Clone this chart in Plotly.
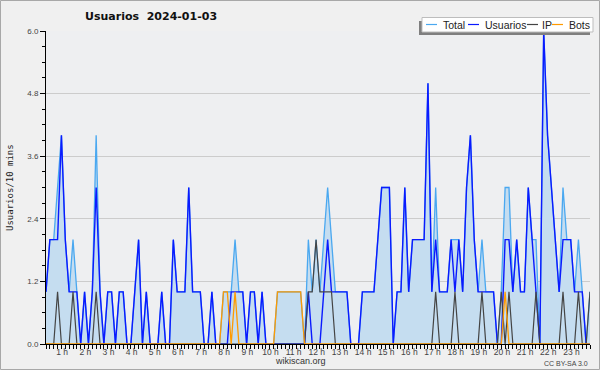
import plotly.graph_objects as go

# ---------------- data (10-minute steps) ----------------
hour_labels = [f"{h} h" for h in range(1, 24)]
y_tick_values = [0, 1.2, 2.4, 3.6, 4.8, 6.0]
y_tick_labels = ["0.0", "1.2", "2.4", "3.6", "4.8", "6.0"]

usuarios = [1, 2, 2, 2, 4, 2, 1, 1, 1, 0, 1, 0, 1, 3, 1, 0, 1, 1, 0, 1,
            1, 0, 0, 1, 2, 0, 1, 0, 0, 0, 1, 0, 0, 2, 1, 1, 1, 3, 1, 1,
            1, 0, 0, 1, 0, 0, 0, 0, 1, 1, 1, 1, 0, 1, 1, 0, 1, 0, 0, 0,
            0, 0, 0, 0, 0, 0, 0, 0, 1, 0, 0, 0, 1, 2, 1, 1, 1, 1, 1, 0,
            0, 0, 1, 1, 1, 1, 2, 3, 3, 3, 0, 1, 1, 3, 1, 2, 2, 2, 2, 5,
            1, 2, 1, 1, 1, 2, 1, 2, 1, 3, 4, 2, 1, 1, 1, 1, 1, 0, 0, 2,
            2, 1, 2, 1, 1, 3, 2, 1, 0, 6, 4, 3, 2, 1, 2, 2, 2, 1, 1, 1,
            0, 0]
ip = [0, 0, 0, 1, 0, 0, 0, 1, 0, 0, 0, 0, 0, 1, 0, 0, 0, 0, 0, 0,
      0, 0, 0, 0, 0, 0, 0, 0, 0, 0, 0, 0, 0, 0, 0, 0, 0, 0, 0, 0,
      0, 0, 0, 0, 0, 0, 0, 0, 0, 0, 0, 0, 0, 0, 0, 0, 0, 0, 0, 0,
      0, 0, 0, 0, 0, 0, 0, 0, 1, 1, 2, 1, 1, 1, 1, 0, 0, 0, 0, 0,
      0, 0, 0, 0, 0, 0, 0, 0, 0, 0, 0, 0, 0, 0, 0, 0, 0, 0, 0, 0,
      0, 1, 0, 0, 0, 0, 1, 0, 0, 0, 0, 0, 0, 1, 0, 0, 0, 0, 1, 0,
      1, 0, 0, 0, 0, 0, 0, 1, 0, 0, 0, 0, 0, 0, 1, 0, 0, 0, 1, 0,
      0, 1]
bots = [0, 0, 0, 0, 0, 0, 0, 0, 0, 0, 0, 0, 0, 0, 0, 0, 0, 0, 0, 0,
        0, 0, 0, 0, 0, 0, 0, 0, 0, 0, 0, 0, 0, 0, 0, 0, 0, 0, 0, 0,
        0, 0, 0, 0, 0, 0, 1, 1, 0, 1, 0, 0, 0, 0, 0, 0, 0, 0, 0, 0,
        1, 1, 1, 1, 1, 1, 1, 0, 0, 0, 0, 0, 0, 0, 0, 0, 0, 0, 0, 0,
        0, 0, 0, 0, 0, 0, 0, 0, 0, 0, 0, 0, 0, 0, 0, 0, 0, 0, 0, 0,
        0, 0, 0, 0, 0, 0, 0, 0, 0, 0, 0, 0, 0, 0, 0, 0, 0, 0, 0, 1,
        0, 0, 0, 0, 0, 0, 0, 0, 0, 0, 0, 0, 0, 0, 0, 0, 0, 0, 0, 0,
        0, 0]
total = [1, 2, 2, 3, 4, 2, 1, 2, 1, 0, 1, 0, 1, 4, 1, 0, 1, 1, 0, 1,
         1, 0, 0, 1, 2, 0, 1, 0, 0, 0, 1, 0, 0, 2, 1, 1, 1, 3, 1, 1,
         1, 0, 0, 1, 0, 0, 1, 1, 1, 2, 1, 1, 0, 1, 1, 0, 1, 0, 0, 0,
         1, 1, 1, 1, 1, 1, 1, 0, 2, 1, 2, 1, 2, 3, 2, 1, 1, 1, 1, 0,
         0, 0, 1, 1, 1, 1, 2, 3, 3, 3, 0, 1, 1, 3, 1, 2, 2, 2, 2, 5,
         1, 3, 1, 1, 1, 2, 2, 2, 1, 3, 4, 2, 1, 2, 1, 1, 1, 0, 1, 3,
         3, 1, 2, 1, 1, 3, 2, 2, 0, 6, 4, 3, 2, 1, 3, 2, 2, 1, 2, 1,
         0, 1]

x = list(range(len(total)))

# ---------------- geometry helpers ----------------
W, H = 600, 370
L, R, T, B = 46, 590, 31, 344


def px(xp):
    return (xp - L) / (R - L)


def py(yp):
    return (B - yp) / (B - T)


C_TOTAL = "#4aa8f0"
C_FILL = "#c5ddf0"
C_USER = "#0a1aff"
C_IP = "#444444"
C_BOTS = "#ff9a00"
SANS = "Liberation Sans"

fig = go.Figure()
fig.add_trace(go.Scatter(x=x, y=total, mode="lines", fill="tozeroy",
                         fillcolor=C_FILL, line=dict(color=C_TOTAL, width=1.3),
                         name="Total", showlegend=False))
fig.add_trace(go.Scatter(x=x, y=usuarios, mode="lines",
                         line=dict(color=C_USER, width=1.4),
                         name="Usuarios", showlegend=False))
fig.add_trace(go.Scatter(x=x, y=ip, mode="lines",
                         line=dict(color=C_IP, width=1.2),
                         name="IP", showlegend=False))
fig.add_trace(go.Scatter(x=x, y=bots, mode="lines",
                         line=dict(color=C_BOTS, width=1.3),
                         name="Bots", showlegend=False))

xtickvals = x
xticktext = [hour_labels[i // 6 - 1] if (i % 6 == 0 and i > 0) else "" for i in x]

fig.update_layout(
    template="none",
    width=W, height=H,
    margin=dict(l=L, r=W - R, t=T, b=H - B, pad=0),
    paper_bgcolor="#f0f0f0",
    plot_bgcolor="#eeeff1",
    font=dict(family=SANS, size=9, color="#333333"),
    xaxis=dict(range=[0, len(total) - 1], tickmode="array", tickvals=xtickvals,
               ticktext=xticktext, ticks="outside", ticklen=4, tickwidth=1,
               tickcolor="#000000", showgrid=False, zeroline=False,
               showline=True, linecolor="#000000", linewidth=1,
               tickfont=dict(family=SANS, size=8.5, color="#444444"),
               ticklabelshift=-7, ticklabelstandoff=-4, automargin=False,
               fixedrange=True),
    yaxis=dict(range=[0, 6], tickmode="array", tickvals=y_tick_values,
               ticktext=y_tick_labels, ticks="outside", ticklen=5,
               tickcolor="#000000", showgrid=True, gridcolor="#cccccc",
               gridwidth=1, zeroline=False, showline=True,
               linecolor="#000000", linewidth=1,
               tickfont=dict(family=SANS, size=8, color="#444444"),
               minor=dict(dtick=0.3, tick0=0, ticks="outside", ticklen=3,
                          tickcolor="#000000", showgrid=False),
               automargin=False, fixedrange=True),
    showlegend=False,
)

shapes = []
# outer border
shapes.append(dict(type="rect", xref="paper", yref="paper",
                   x0=px(0.5), x1=px(W - 0.5), y0=py(0.5), y1=py(H - 0.5),
                   line=dict(color="#a8a8a8", width=1), fillcolor="rgba(0,0,0,0)",
                   layer="above"))
# legend shadow + box
shapes.append(dict(type="rect", xref="paper", yref="paper",
                   x0=px(419), x1=px(590), y0=py(35), y1=py(21),
                   line=dict(width=0), fillcolor="#7f7f7f", layer="above"))
shapes.append(dict(type="rect", xref="paper", yref="paper",
                   x0=px(422), x1=px(593), y0=py(32), y1=py(17.5),
                   line=dict(color="#bdbdbd", width=1), fillcolor="#ffffff", layer="above"))

legend_items = [("Total", C_TOTAL, 426, 442),
                ("Usuarios", C_USER, 468, 484),
                ("IP", C_IP, 527, 541),
                ("Bots", C_BOTS, 552, 568)]
annotations = []
for name, col, lx, tx in legend_items:
    shapes.append(dict(type="line", xref="paper", yref="paper",
                       x0=px(lx), x1=px(lx + 11), y0=py(24.5), y1=py(24.5),
                       line=dict(color=col, width=1.2), layer="above"))
    annotations.append(dict(xref="paper", yref="paper", x=px(tx - 1), y=py(24.5),
                            text=name, showarrow=False, xanchor="left", yanchor="middle",
                            font=dict(family=SANS, size=10.5, color="#222222")))

annotations.append(dict(xref="paper", yref="paper", x=px(151), y=py(16.5),
                        text="<b>Usuarios  2024-01-03</b>", showarrow=False,
                        xanchor="center", yanchor="middle",
                        font=dict(family="DejaVu Sans", size=11, color="#111111")))
annotations.append(dict(xref="paper", yref="paper", x=px(10), y=py(188),
                        text="Usuarios/10 mins", showarrow=False, textangle=-90,
                        xanchor="center", yanchor="middle",
                        font=dict(family="DejaVu Sans Mono", size=9, color="#222222")))
annotations.append(dict(xref="paper", yref="paper", x=px(300), y=py(361.5),
                        text="wikiscan.org", showarrow=False,
                        xanchor="center", yanchor="middle",
                        font=dict(family=SANS, size=9, color="#333333")))
annotations.append(dict(xref="paper", yref="paper", x=px(590), y=py(363),
                        text="CC BY-SA 3.0", showarrow=False,
                        xanchor="right", yanchor="middle",
                        font=dict(family=SANS, size=7, color="#444444")))

fig.update_layout(shapes=shapes, annotations=annotations)

fig.write_html("out.html", config={"displayModeBar": False},
               post_script="document.body.style.margin='0';document.body.style.overflow='hidden';")
